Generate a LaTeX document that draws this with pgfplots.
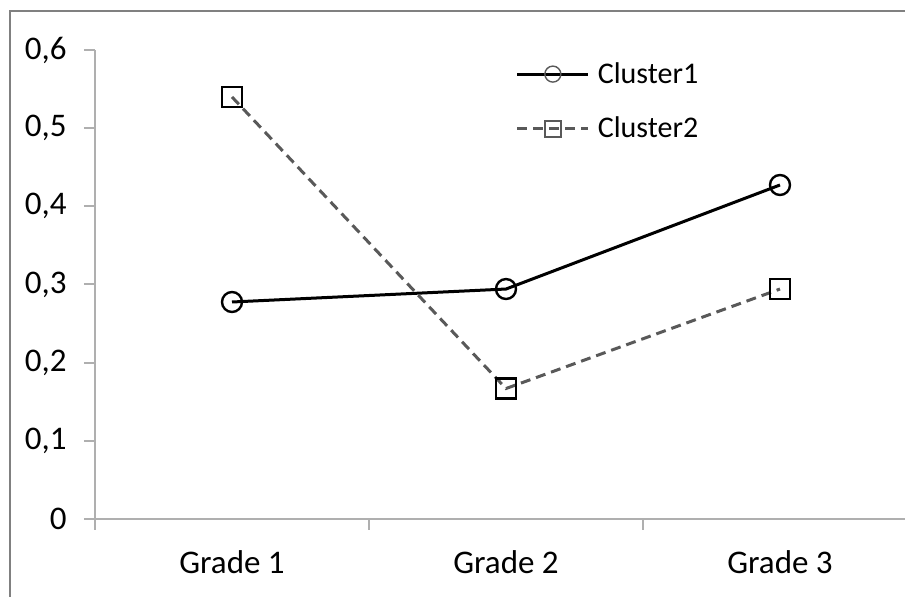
\documentclass[border=0pt]{standalone}
\usepackage{pgfplots}
\pgfplotsset{compat=1.18}
\usepackage{fontspec}
\setmainfont{Carlito}

\definecolor{frame}{RGB}{128,128,128}
\definecolor{axisgray}{RGB}{175,175,175}
\definecolor{darkline}{RGB}{89,89,89}

\begin{document}
\begin{tikzpicture}
\path[use as bounding box] (0pt,0pt) rectangle (452.5pt,298.5pt);
\clip (0pt,0pt) rectangle (452.5pt,298.5pt);
\draw[line width=1pt, frame] (5pt,-10pt) -- (5pt,293pt) -- (470pt,293pt);

\begin{axis}[
    at={(47.5pt,39pt)}, anchor=south west,
    scale only axis,
    width=411pt, height=234.5pt,
    xmin=0.5, xmax=3.5,
    ymin=0, ymax=0.6,
    axis lines*=left,
    axis line style={axisgray, line width=1pt},
    tick style={axisgray, line width=1pt},
    tick align=outside,
    major tick length=5.5pt,
    xtick={0.5,1.5,2.5,3.5},
    x tick label as interval,
    xticklabels={Grade 1,Grade 2,Grade 3},
    ytick={0,0.1,0.2,0.3,0.4,0.5,0.6},
    /pgf/number format/.cd, use comma, fixed, precision=1, assume math mode=true,
    /pgfplots/.cd,
    tick label style={font=\fontsize{16.5pt}{19pt}\selectfont, black},
    yticklabel style={inner sep=0pt, xshift=-8.5pt},
    xticklabel style={inner sep=0pt, yshift=-10pt},
    legend style={draw=none, fill=none, inner sep=0pt, outer sep=0pt,
        at={(0.512,0.974)}, anchor=north west,
        font=\fontsize{15pt}{18pt}\selectfont,
        nodes={inner sep=0pt}, row sep=15.5pt},
    legend cell align=left,
    /tikz/every odd column/.append style={column sep=4pt},
    legend image code/.code={\draw[mark repeat=2,mark phase=2,#1] plot coordinates {(0pt,0pt)(17.75pt,0pt)(35.5pt,0pt)};},
    legend image post style={mark size=4pt, every mark/.append style={solid, line width=0.7pt, draw=darkline}},
]

\addplot[black, line width=1.5pt, mark=o, mark size=5pt,
    mark options={line width=1.2pt}]
    coordinates {(1,0.2776)(2,0.2942)(3,0.4273)};
\addlegendentry{Cluster1}

\addplot[darkline, line width=1.5pt, dash pattern=on 5pt off 3pt, mark=square, mark size=5pt,
    mark options={solid, black, line width=1.3pt}]
    coordinates {(1,0.5399)(2,0.1669)(3,0.2942)};
\addlegendentry{Cluster2}

\end{axis}
\end{tikzpicture}
\end{document}
